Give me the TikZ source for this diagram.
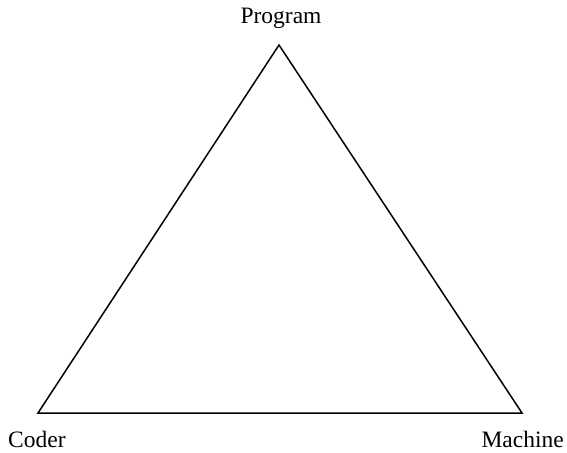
\documentclass[tikz,border=0pt]{standalone}
\usepackage{fontspec}
\setmainfont{Liberation Serif}
\begin{document}
\begin{tikzpicture}[x=1pt,y=-1pt,
  lbl/.style={inner sep=0pt,font=\fontsize{23.5}{28}\selectfont},
  edge/.style={line width=1.5pt,line join=miter}]
\useasboundingbox (0,0) rectangle (567,452);
\coordinate (P) at (279,45);
\coordinate (C) at (38,413);
\coordinate (M) at (522,413);
\draw[edge] (P) -- (C) -- (M) -- cycle;
\node[lbl,anchor=base] (prog) at (281,24) {Program};
\node[lbl,anchor=base west] (coder) at (8,447) {Coder};
\node[lbl,anchor=base east] (mach) at (564,447) {Machine};
\end{tikzpicture}
\end{document}
